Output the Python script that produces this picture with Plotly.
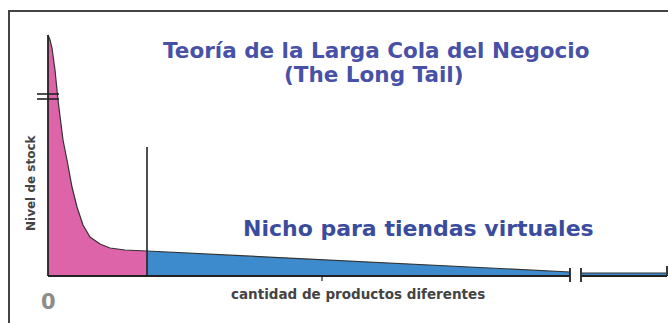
import plotly.graph_objects as go

# Data (x: products, y: stock level) in chart units
head_x = [0, 2, 4, 7, 10, 15, 19, 24, 29, 35, 42, 52, 62, 77, 99]
head_y = [241, 236, 228, 206, 176, 136, 116, 89, 69, 51, 39, 32, 28, 26, 25]
tail_x = [99, 522]
tail_y = [25, 4]
far_x = [534, 618]
far_y = [3, 3]

PINK = "#dd64a9"
BLUE = "#3d8bcd"
LINE = "#222222"

fig = go.Figure()
fig.add_trace(go.Scatter(x=head_x, y=head_y, mode="lines", fill="tozeroy",
                         fillcolor=PINK, line=dict(color="#333", width=1.2),
                         hoverinfo="skip"))
fig.add_trace(go.Scatter(x=tail_x, y=tail_y, mode="lines", fill="tozeroy",
                         fillcolor=BLUE, line=dict(color="#333", width=1.2),
                         hoverinfo="skip"))
fig.add_trace(go.Scatter(x=far_x, y=far_y, mode="lines", fill="tozeroy",
                         fillcolor=BLUE, line=dict(color="#333", width=1.2),
                         hoverinfo="skip"))

shapes = []
def seg(x0, y0, x1, y1, w=1.8, c=LINE):
    shapes.append(dict(type="line", xref="x", yref="y", x0=x0, y0=y0, x1=x1, y1=y1,
                       line=dict(color=c, width=w)))

# axes
seg(0, 0, 0, 241)
seg(0, 0, 522, 0)
seg(534, 0, 619, 0)
# y break marks
seg(-11, 182, 11, 182, 1.6)
seg(-11, 177, 11, 177, 1.6)
# x break marks
seg(522, -6, 522, 8, 1.8)
seg(533, -6, 533, 8, 1.8)
# end tick
seg(619, 0, 619, 10, 1.8)
# small tick
seg(274, 0, 274, -5, 1.2)
# divider line
seg(head_x[-1], 0, head_x[-1], 129, 1.6)

# outer frame
shapes.append(dict(type="rect", xref="paper", yref="paper",
                   x0=9/668, x1=1.2, y0=-0.2, y1=1-11/323,
                   line=dict(color="#444", width=2)))

TXT = "#4751a8"
F = "DejaVu Sans"
ann = [
    dict(x=376 - 48, y=276 - 50, text="<b>Teoría de la Larga Cola del Negocio</b>",
         font=dict(size=21.5, color=TXT, family=F)),
    dict(x=374 - 48, y=276 - 74, text="<b>(The Long Tail)</b>",
         font=dict(size=21.5, color=TXT, family=F)),
    dict(x=418 - 48, y=276 - 228, text="<b>Nicho para tiendas virtuales</b>",
         font=dict(size=22, color="#3a4c9e", family=F)),
    dict(x=358 - 48, y=276 - 294, text="<b>cantidad de productos diferentes</b>",
         font=dict(size=13.5, color="#444", family=F)),
    dict(x=48 - 48, y=276 - 302, text="<b>0</b>",
         font=dict(size=21, color="#8c8c8c", family=F)),
    dict(x=31 - 48, y=276 - 183, text="<b>Nivel de stock</b>", textangle=-90,
         font=dict(size=12, color="#444", family=F)),
]
for a in ann:
    a.update(xref="x", yref="y", showarrow=False, xanchor="center", yanchor="middle")

fig.update_layout(
    width=668, height=323, margin=dict(l=0, r=0, t=0, b=0),
    paper_bgcolor="white", plot_bgcolor="white", showlegend=False,
    xaxis=dict(range=[-48, 620], visible=False, fixedrange=True),
    yaxis=dict(range=[-47, 276], visible=False, fixedrange=True),
    shapes=shapes, annotations=ann,
)
fig.write_html("out.html")
